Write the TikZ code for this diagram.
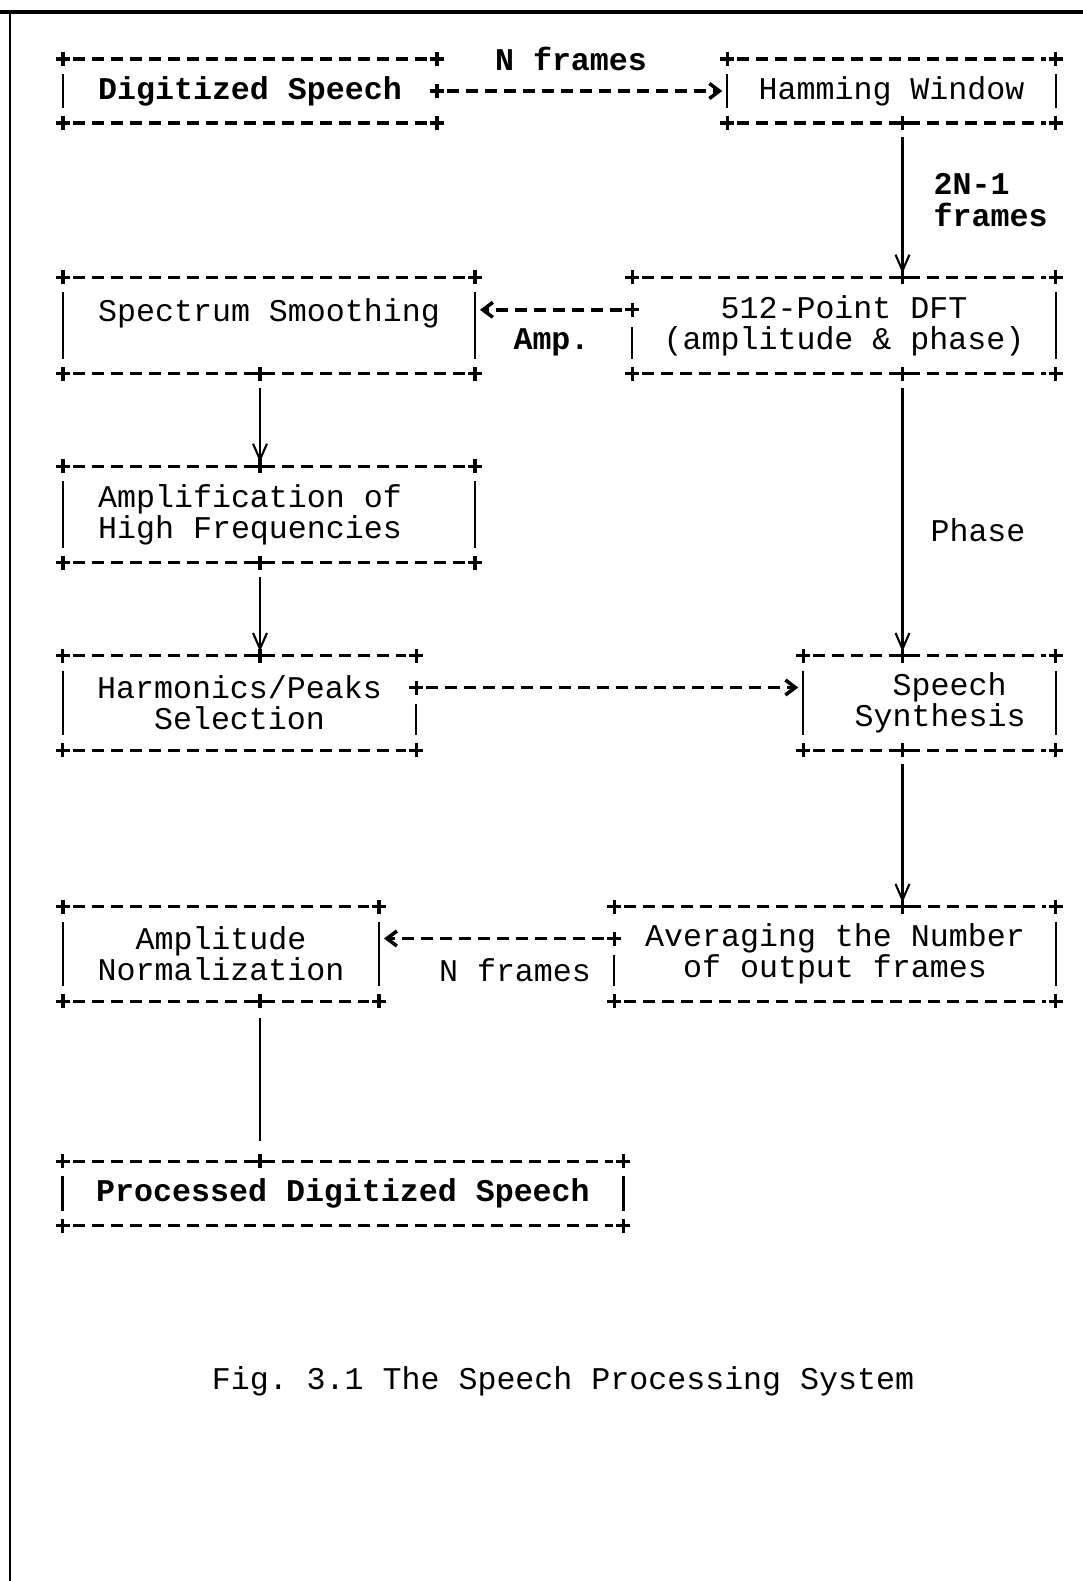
\documentclass[tikz,border=0pt]{standalone}
\usepackage{fontspec}
\setmonofont{Liberation Mono}
\usetikzlibrary{arrows.meta,calc}

\tikzset{
  txt/.style={font=\ttfamily\fontsize{9}{8.9}\selectfont},
  boldtxt/.style={font=\ttfamily\bfseries\fontsize{9}{8.9}\selectfont},
  stage/.style={txt, rectangle, inner sep=0pt, align=center},
  rule/.style={line width=1pt, dash pattern=on 0.12cm off 0.07cm, shorten <=0.1cm, shorten >=0.1cm},
  side/.style={line width=0.6pt},
  flow/.style={line width=0.6pt, shorten <=0.14cm, shorten >=0.04cm, -{Straight Barb[length=0.16cm,width=0.14cm]}},
  link/.style={line width=1pt, dash pattern=on 0.12cm off 0.07cm, shorten <=0.1cm, shorten >=0.05cm, -{Straight Barb[length=0.1cm,width=0.15cm]}},
  crossmark/.pic={\draw[line width=0.9pt] (-0.07,0) -- (0.07,0) (0,-0.07) -- (0,0.07);}
}

% dashed top and bottom of a stage, with its corners
\newcommand{\stageframe}[1]{%
  \draw[rule] (#1.north west) -- (#1.north east);
  \draw[rule] (#1.south west) -- (#1.south east);
  \foreach \corner in {north west,north east,south west,south east}
    \pic at (#1.\corner) {crossmark};
}
\newcommand{\leftbar}[1]{\draw[side] ($(#1.north west)+(0,-0.15)$) -- ($(#1.south west)+(0,0.15)$);}
\newcommand{\rightbar}[1]{\draw[side] ($(#1.north east)+(0,-0.15)$) -- ($(#1.south east)+(0,0.15)$);}
\newcommand{\lowleftbar}[1]{\draw[side] ($(#1.west)+(0,-0.01)$) -- ($(#1.south west)+(0,0.15)$);}
\newcommand{\lowrightbar}[1]{\draw[side] ($(#1.east)+(0,-0.01)$) -- ($(#1.south east)+(0,0.15)$);}

\begin{document}
\begin{tikzpicture}
\useasboundingbox (0,0) rectangle (10.83,-15.81);
% page edge
\draw[line width=1.1pt] (0,-0.12) -- (10.83,-0.12);
\draw[line width=0.8pt] (0.10,-0.12) -- (0.10,-15.81);
% rails of the vertical connectors
\coordinate (leftrail) at (2.60,0);
\coordinate (rightrail) at (9.025,0);

% stages
\node[stage,boldtxt,minimum width=3.725cm,minimum height=0.625cm] (ds) at (2.50,-0.91) {Digitized Speech};
\node[stage,minimum width=3.27cm,minimum height=0.625cm] (hw) at (8.915,-0.91) {Hamming Window};
\node[stage,minimum width=4.105cm,minimum height=0.95cm] (ss) at (2.69,-3.255) {Spectrum Smoothing\\\mbox{}};
\node[stage,minimum width=4.22cm,minimum height=0.95cm] (dft) at (8.44,-3.255) {512-Point DFT\\(amplitude \& phase)};
\node[stage,minimum width=4.105cm,minimum height=0.95cm] (ahf) at (2.69,-5.145) {Amplification of\hphantom{xx}\\High Frequencies\hphantom{xx}};
\node[stage,minimum width=3.52cm,minimum height=0.935cm] (hps) at (2.395,-7.03) {Harmonics/Peaks\\Selection};
\node[stage,minimum width=2.51cm,minimum height=0.935cm,text width=1.92cm,align=right] (syn) at (9.295,-7.03) {Speech\hphantom{s}\\Synthesis};
\node[stage,minimum width=4.40cm,minimum height=0.935cm] (avg) at (8.35,-9.54) {Averaging the Number\\of output frames};
\node[stage,minimum width=3.145cm,minimum height=0.935cm] (an) at (2.21,-9.54) {Amplitude\\Normalization};
\node[stage,boldtxt,minimum width=5.595cm,minimum height=0.63cm] (pds) at (3.43,-11.935) {Processed Digitized Speech};

\foreach \s in {ds,hw,ss,dft,ahf,hps,syn,avg,an,pds} {\stageframe{\s}}

% sides
\foreach \s in {ds,hw,ss,ahf,hps,syn,an,pds} {\leftbar{\s}}
\foreach \s in {hw,ss,dft,ahf,syn,avg,an,pds} {\rightbar{\s}}
\lowleftbar{dft}
\lowleftbar{avg}
\lowrightbar{hps}

% ports on the first text row
\coordinate (dftport) at ($(dft.west)+(0,0.157)$);
\coordinate (hpsport) at ($(hps.east)+(0,0.155)$);
\coordinate (avgport) at ($(avg.west)+(0,0.155)$);
\foreach \p in {ds.east,dftport,hpsport,avgport} {\pic at (\p) {crossmark};}

% junctions
\foreach \j in {hw.south,dft.north,dft.south,syn.north,syn.south,avg.north} {\pic at (\j -| rightrail) {crossmark};}
\foreach \j in {ss.south,ahf.north,ahf.south,hps.north,an.south,pds.north} {\pic at (\j -| leftrail) {crossmark};}

% connectors
\draw[link] (ds.east) -- (hw.west);
\draw[link] (dftport) -- (ss.east |- dftport);
\draw[link] (hpsport) -- (syn.west |- hpsport);
\draw[link] (avgport) -- (an.east |- avgport);
\draw[flow] (hw.south -| rightrail) -- (dft.north -| rightrail);
\draw[flow] (dft.south -| rightrail) -- (syn.north -| rightrail);
\draw[flow] (syn.south -| rightrail) -- (avg.north -| rightrail);
\draw[flow] (ss.south -| leftrail) -- (ahf.north -| leftrail);
\draw[flow] (ahf.south -| leftrail) -- (hps.north -| leftrail);
\draw[side,shorten <=0.17cm,shorten >=0.2cm] (an.south -| leftrail) -- (pds.north -| leftrail);

% labels
\node[boldtxt] (nin) at (5.71,-0.585) {N frames};
\node[boldtxt,align=left,anchor=west,inner sep=0pt] (twon) at (9.33,-2.0) {2N-1\\frames};
\node[boldtxt] (amp) at (5.515,-3.42) {Amp.};
\node[txt] (phase) at (9.78,-5.305) {Phase};
\node[txt] (nout) at (5.15,-9.70) {N frames};
\node[txt] (caption) at (5.63,-13.815) {Fig. 3.1 The Speech Processing System};
\end{tikzpicture}
\end{document}
